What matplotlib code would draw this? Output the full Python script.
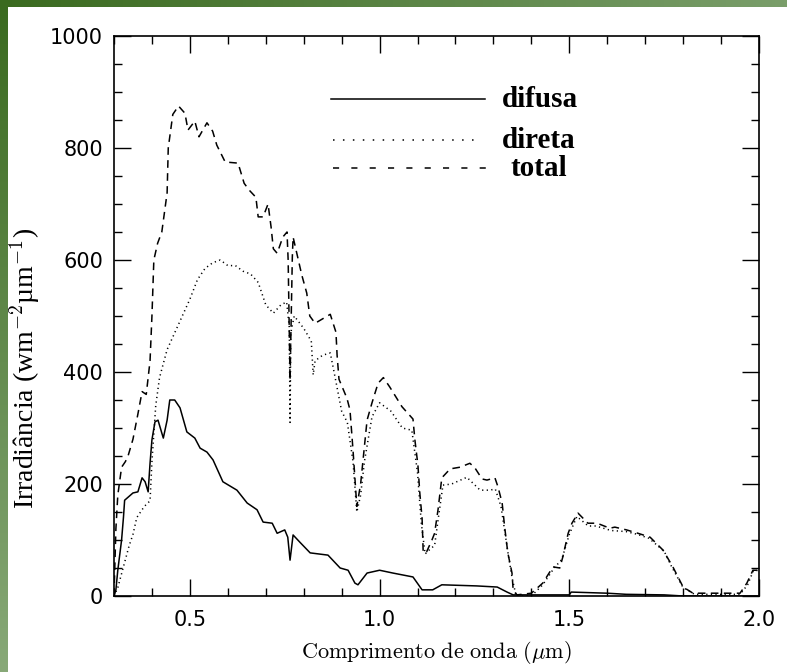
import numpy as np
import matplotlib
matplotlib.use("Agg")
import matplotlib.pyplot as plt
from matplotlib.ticker import MultipleLocator
from matplotlib.colors import LinearSegmentedColormap

# Espectro de irradiancia solar: difusa, direta e total (W m-2 um-1)
wl_difusa = [0.30, 0.305, 0.31, 0.32, 0.325, 0.328, 0.35, 0.363, 0.374, 0.382, 0.39, 0.395,
             0.40, 0.408, 0.416, 0.426, 0.43, 0.44, 0.447, 0.46, 0.474, 0.492, 0.513, 0.527,
             0.545, 0.561, 0.587, 0.624, 0.651, 0.677, 0.693, 0.717, 0.73, 0.75, 0.758,
             0.764, 0.772, 0.79, 0.817, 0.864, 0.896, 0.917, 0.935, 0.943, 0.967, 1.0,
             1.035, 1.088, 1.112, 1.14, 1.164, 1.256, 1.31, 1.336, 1.352, 1.5, 1.505,
             1.6, 1.65, 1.75, 1.8, 2.0]
irr_difusa = [0, 11, 46, 100, 141, 171, 184, 186, 211, 204, 186, 237,
              279, 311, 314, 291, 282, 314, 350, 350, 336, 293, 282, 264,
              257, 243, 204, 189, 166, 154, 132, 130, 112, 118, 105,
              64, 109, 96, 77, 73, 50, 46, 23, 20, 41, 46,
              41, 34, 11, 11, 20, 18, 16, 7, 2, 2, 7,
              5, 3, 2, 0, 0]

wl_direta = [0.30, 0.31, 0.32, 0.33, 0.34, 0.35, 0.36, 0.38, 0.395, 0.40, 0.41, 0.42,
             0.44, 0.46, 0.48, 0.50, 0.52, 0.54, 0.56, 0.58, 0.60, 0.62, 0.64, 0.66,
             0.68, 0.70, 0.72, 0.74, 0.755, 0.762, 0.764, 0.766, 0.775, 0.80, 0.82,
             0.825, 0.83, 0.85, 0.87, 0.88, 0.90, 0.915, 0.93, 0.94, 0.95, 0.96, 0.98,
             1.00, 1.03, 1.06, 1.085, 1.10, 1.11, 1.12, 1.135, 1.145, 1.155, 1.167,
             1.19, 1.23, 1.265, 1.29, 1.305, 1.32, 1.33, 1.34, 1.35, 1.36, 1.40, 1.43,
             1.46, 1.48, 1.50, 1.52, 1.55, 1.57, 1.61, 1.65, 1.68, 1.71, 1.75, 1.77,
             1.80, 1.83, 1.95, 1.97, 1.985, 2.0]
irr_direta = [0, 15, 40, 65, 90, 110, 140, 160, 170, 240, 340, 390,
              440, 470, 500, 530, 565, 585, 595, 600, 590, 590, 580, 575,
              560, 520, 505, 520, 525, 480, 310, 470, 500, 478, 455,
              395, 420, 430, 434, 400, 330, 310, 240, 150, 180, 240, 320,
              345, 330, 300, 296, 220, 130, 75, 85, 90, 140, 198,
              200, 212, 189, 189, 191, 160, 115, 70, 30, 0, 0, 20,
              50, 65, 110, 142, 125, 125, 117, 115, 110, 103, 80, 52,
              15, 3, 3, 20, 45, 46]

wl_total = [0.30, 0.305, 0.31, 0.32, 0.33, 0.337, 0.35, 0.363, 0.374, 0.385, 0.395, 0.40,
            0.405, 0.415, 0.426, 0.44, 0.443, 0.455, 0.47, 0.487, 0.495, 0.513, 0.524,
            0.545, 0.56, 0.571, 0.593, 0.627, 0.643, 0.656, 0.674, 0.68, 0.693, 0.706,
            0.714, 0.72, 0.73, 0.745, 0.756, 0.759, 0.764, 0.77, 0.772, 0.795, 0.808,
            0.816, 0.83, 0.87, 0.885, 0.888, 0.893, 0.914, 0.922, 0.93, 0.94, 0.95,
            0.967, 0.98, 0.996, 1.01, 1.027, 1.059, 1.088, 1.093, 1.101, 1.106, 1.112,
            1.115, 1.124, 1.138, 1.145, 1.154, 1.164, 1.186, 1.212, 1.238, 1.251, 1.27,
            1.283, 1.304, 1.312, 1.323, 1.33, 1.338, 1.349, 1.352, 1.362, 1.40, 1.43,
            1.457, 1.475, 1.483, 1.497, 1.507, 1.523, 1.549, 1.573, 1.607, 1.62, 1.651,
            1.681, 1.713, 1.747, 1.773, 1.80, 1.826, 1.95, 1.968, 1.984, 2.0]
irr_total = [0, 120, 180, 230, 240, 250, 280, 325, 365, 360, 420, 500,
             600, 630, 650, 720, 800, 860, 875, 862, 832, 848, 820,
             845, 830, 805, 775, 773, 737, 725, 712, 677, 677, 700,
             659, 620, 612, 641, 650, 600, 385, 605, 641, 573, 541,
             500, 487, 503, 471, 430, 387, 353, 332, 260, 160, 200,
             314, 345, 380, 390, 373, 338, 316, 279, 234, 184, 139,
             77, 79, 100, 112, 154, 211, 227, 230, 237, 229, 209,
             207, 211, 195, 166, 121, 77, 41, 11, 2, 5, 23,
             52, 50, 70, 112, 130, 148, 130, 130, 121, 123, 118,
             112, 105, 82, 52, 16, 5, 5, 23, 46, 46]

legend_labels = ["difusa", "direta", "total"]

plt.rcParams["mathtext.fontset"] = "cm"

fig = plt.figure(figsize=(7.87, 6.72), dpi=100)
fig.patch.set_facecolor("white")

# faixas verdes da moldura (esquerda e topo)
green = LinearSegmentedColormap.from_list("moldura", ["#3a6a1f", "#88a978"])
ax_l = fig.add_axes([0, 0, 8 / 787, 1])
ax_l.imshow(np.linspace(0, 1, 256).reshape(-1, 1), aspect="auto", cmap=green)
ax_l.axis("off")
green_top = LinearSegmentedColormap.from_list("topo", ["#3a6a1f", "#7a9e6a"])
ax_t = fig.add_axes([0, 1 - 7 / 672, 1, 7 / 672])
ax_t.imshow(np.linspace(0, 1, 256).reshape(1, -1), aspect="auto", cmap=green_top)
ax_t.axis("off")

ax = fig.add_axes([114 / 787, 76 / 672, 645 / 787, 560 / 672])
lw = 1.1
dotted = (0, (0.8, 2.2))
dashed = (0, (5, 3.5))
ax.plot(wl_difusa, irr_difusa, color="black", lw=lw, ls="-")
ax.plot(wl_direta, irr_direta, color="black", lw=lw, ls=dotted)
ax.plot(wl_total, irr_total, color="black", lw=lw, ls=dashed)

ax.set_xlim(0.3, 2.0)
ax.set_ylim(0, 1000)
ax.xaxis.set_major_locator(MultipleLocator(0.5))
ax.xaxis.set_minor_locator(MultipleLocator(0.1))
ax.yaxis.set_major_locator(MultipleLocator(200))
ax.yaxis.set_minor_locator(MultipleLocator(50))
ax.set_xticks([0.5, 1.0, 1.5, 2.0])
ax.set_xticklabels(["0.5", "1.0", "1.5", "2.0"])
ax.tick_params(which="both", direction="in", top=True, right=True, width=1.0,
               labelsize=15)
ax.tick_params(axis="x", pad=10)
ax.tick_params(axis="y", pad=8)
ax.tick_params(which="major", length=12)
ax.tick_params(which="minor", length=6)
for s in ax.spines.values():
    s.set_linewidth(1.2)

ax.set_xlabel(r"$\mathrm{Comprimento\ de\ onda\ (}\mu\mathrm{m)}$", fontsize=16)
ax.xaxis.set_label_coords(0.5, -0.076)
ax.set_ylabel("Irradiância (wm$^{-2}$µm$^{-1}$)", family="Liberation Serif",
              fontsize=20)
ax.yaxis.set_label_coords(-0.112, 0.407)

# legenda desenhada a mao
leg_styles = ["-", (0, (1, 5.5)), (0, (4, 8))]
leg_y = [887, 814, 764]
leg_x0 = [0.872, 0.877, 0.877]
leg_x1 = [1.278, 1.259, 1.291]
leg_tx = [1.323, 1.323, 1.345]
for lab, st, yy, x0, x1, tx in zip(legend_labels, leg_styles, leg_y, leg_x0, leg_x1, leg_tx):
    ax.plot([x0, x1], [yy, yy], color="black", lw=lw, ls=st)
    ax.text(tx, yy, lab, family="Liberation Serif", fontweight="bold",
            fontsize=21, va="center", ha="left")

fig.savefig("out.png", dpi=100, facecolor="white")
